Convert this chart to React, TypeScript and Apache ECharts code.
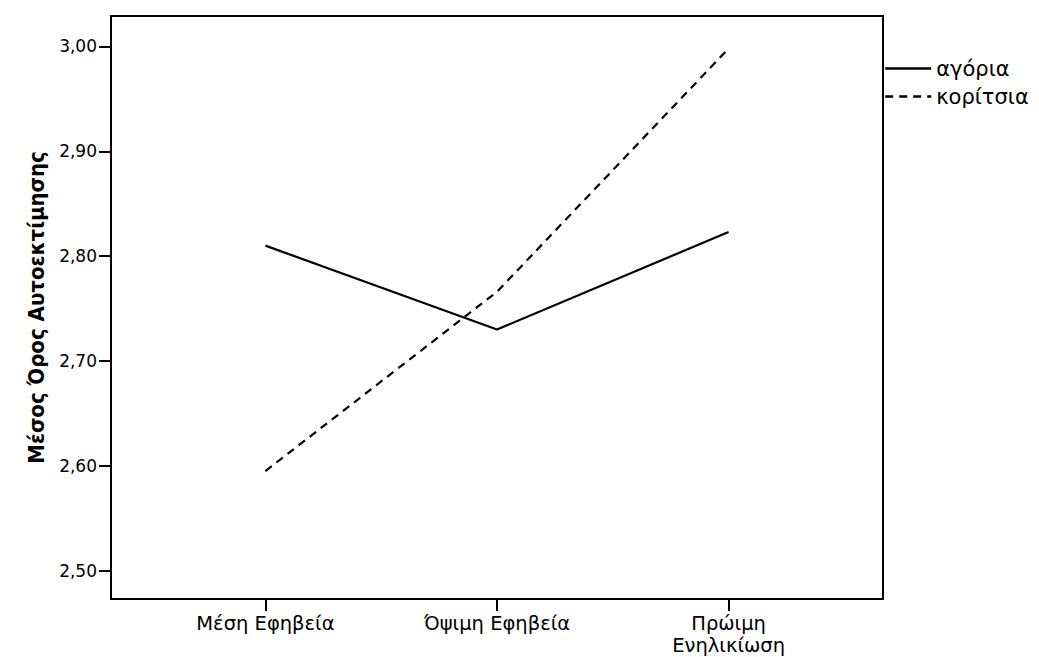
import React, { useEffect, useRef } from "react";
import * as echarts from "echarts";

const categories = ["Μέση Εφηβεία", "Όψιμη Εφηβεία", "Πρώιμη\nΕνηλικίωση"];
const boys = [2.81, 2.73, 2.823];
const girls = [2.595, 2.766, 2.998];
const yTicks = [2.5, 2.6, 2.7, 2.8, 2.9, 3.0];
const seriesNames = ["αγόρια", "κορίτσια"];
const yTitle = "Μέσος Όρος Αυτοεκτίμησης";

export default function App() {
  const ref = useRef<HTMLDivElement>(null);
  useEffect(() => {
    if (!ref.current) return;
    const chart = echarts.init(ref.current, null, { renderer: "svg" });
    const xIdx = categories.map((_, i) => i);
    const font = "'DejaVu Sans', Arial, sans-serif";
    chart.setOption({
      animation: false,
      backgroundColor: "#ffffff",
      grid: {
        left: 111,
        top: 16,
        right: 156,
        bottom: 58,
        show: true,
        borderColor: "#000",
        borderWidth: 2,
        containLabel: false,
        outerBoundsMode: "none",
      },
      legend: {
        orient: "vertical",
        left: 884,
        top: 58,
        padding: 0,
        itemWidth: 46,
        itemHeight: 14,
        itemGap: 7,
        itemStyle: { opacity: 0 },
        lineStyle: { width: 2.4 },
        textStyle: { fontFamily: font, fontSize: 21, lineHeight: 21, color: "#000", padding: 0 },
        data: seriesNames,
      },
      xAxis: {
        type: "value",
        min: -2 / 3,
        max: 8 / 3,
        splitLine: { show: false },
        axisLine: { show: true, onZero: false, lineStyle: { color: "#000", width: 2 } },
        axisTick: { show: true, length: 12, customValues: xIdx, lineStyle: { color: "#000", width: 2 } },
        axisLabel: {
          customValues: xIdx,
          formatter: (v: number) => categories[Math.round(v)] ?? "",
          fontFamily: font,
          fontSize: 19.5,
          lineHeight: 22,
          color: "#000",
          margin: 13,
        },
      },
      yAxis: {
        type: "value",
        min: 2.473,
        max: 3.029,
        name: yTitle,
        nameLocation: "middle",
        nameGap: 64,
        nameTextStyle: {
          fontFamily: "'Liberation Sans Narrow', 'DejaVu Sans Condensed', 'Arial Narrow', sans-serif",
          fontWeight: "bold",
          fontSize: 22,
          color: "#000",
        },
        splitLine: { show: false },
        axisLine: { show: true, onZero: false, lineStyle: { color: "#000", width: 2 } },
        axisTick: { show: true, length: 12, customValues: yTicks, lineStyle: { color: "#000", width: 2 } },
        axisLabel: {
          customValues: yTicks,
          formatter: (v: number) => v.toFixed(2).replace(".", ","),
          fontFamily: font,
          fontSize: 17,
          color: "#000",
          margin: 14,
        },
      },
      series: [
        {
          name: seriesNames[0],
          type: "line",
          symbol: "none",
          data: boys.map((v, i) => [xIdx[i], v]),
          lineStyle: { color: "#000", width: 2.2, type: "solid" },
          itemStyle: { color: "#000" },
        },
        {
          name: seriesNames[1],
          type: "line",
          symbol: "none",
          data: girls.map((v, i) => [xIdx[i], v]),
          lineStyle: { color: "#000", width: 2.2, type: [8, 6] },
          itemStyle: { color: "#000" },
        },
      ],
    });
    return () => chart.dispose();
  }, []);
  return <div ref={ref} style={{ width: 1039, height: 657, position: "absolute", left: 0, top: 0 }} />;
}
